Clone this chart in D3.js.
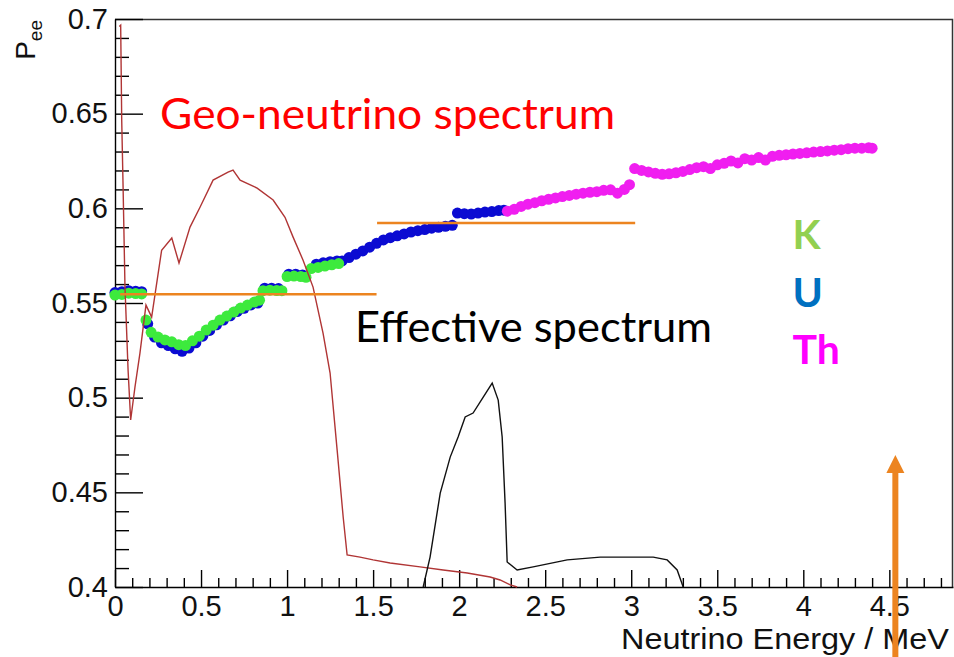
<!DOCTYPE html>
<html>
<head>
<meta charset="utf-8">
<script src="https://cdn.jsdelivr.net/npm/d3@7"></script>
<style>
html, body { margin: 0; padding: 0; background: #fff; }
svg { display: block; }
</style>
</head>
<body>
<div id="chart"></div>
<script>
// tick labels
var xTickLabels = ["0", "0.5", "1", "1.5", "2", "2.5", "3", "3.5", "4", "4.5"];
var yTickLabels = ["0.4", "0.45", "0.5", "0.55", "0.6", "0.65", "0.7"];

// Pee points, [energy MeV, Pee]
var kPoints = [
  [0.00, 0.5542], [0.04, 0.5545], [0.08, 0.5552], [0.12, 0.5550], [0.155, 0.5548],
  [0.18, 0.5410], [0.21, 0.5345], [0.25, 0.5320], [0.29, 0.5305], [0.33, 0.5295],
  [0.37, 0.5280], [0.41, 0.5275], [0.45, 0.5300], [0.49, 0.5325], [0.53, 0.5357],
  [0.57, 0.5383], [0.61, 0.5410], [0.65, 0.5431], [0.69, 0.5452], [0.73, 0.5473],
  [0.77, 0.5489], [0.81, 0.5505], [0.84, 0.5515],
  [0.86, 0.5565], [0.90, 0.5568], [0.94, 0.5566], [0.97, 0.5565],
  [1.00, 0.5640], [1.04, 0.5642], [1.08, 0.5640], [1.11, 0.5636],
  [1.14, 0.5682], [1.18, 0.5688], [1.22, 0.5695], [1.26, 0.5702], [1.30, 0.5708]
];

var uPoints = [
  [0.00, 0.5555], [0.04, 0.5560], [0.08, 0.5565], [0.12, 0.5562], [0.155, 0.5560],
  [0.19, 0.5390], [0.23, 0.5320], [0.27, 0.5290], [0.31, 0.5275], [0.35, 0.5258],
  [0.39, 0.5245], [0.43, 0.5262], [0.47, 0.5290], [0.51, 0.5325], [0.55, 0.5355],
  [0.59, 0.5385], [0.63, 0.5410], [0.67, 0.5432], [0.71, 0.5455], [0.75, 0.5472],
  [0.79, 0.5490], [0.83, 0.5500],
  [0.87, 0.5578], [0.91, 0.5578], [0.95, 0.5576],
  [1.01, 0.5652], [1.05, 0.5652], [1.09, 0.5648],
  [1.17, 0.5705], [1.21, 0.5712], [1.25, 0.5718], [1.29, 0.5722],
  [1.32, 0.5722], [1.36, 0.5740], [1.40, 0.5758], [1.44, 0.5775], [1.48, 0.5795],
  [1.52, 0.5815], [1.56, 0.5833], [1.60, 0.5845], [1.64, 0.5855], [1.68, 0.5865],
  [1.72, 0.5875], [1.76, 0.5882], [1.80, 0.5888], [1.84, 0.5895], [1.88, 0.5900],
  [1.92, 0.5905], [1.96, 0.5910],
  [1.99, 0.5975], [2.03, 0.5972], [2.07, 0.5970], [2.11, 0.5975], [2.15, 0.5980],
  [2.19, 0.5983], [2.23, 0.5988], [2.26, 0.5990]
];

var thPoints = [
  [2.28, 0.5985], [2.32, 0.5995], [2.36, 0.6010], [2.40, 0.6022], [2.44, 0.6030],
  [2.48, 0.6040], [2.52, 0.6048], [2.56, 0.6055], [2.60, 0.6062], [2.64, 0.6068],
  [2.68, 0.6075], [2.72, 0.6080], [2.76, 0.6085], [2.80, 0.6088], [2.84, 0.6095],
  [2.88, 0.6098], [2.92, 0.6080], [2.96, 0.6100], [2.99, 0.6125],
  [3.02, 0.6210], [3.06, 0.6200], [3.10, 0.6192], [3.14, 0.6185], [3.18, 0.6180],
  [3.22, 0.6182], [3.26, 0.6188], [3.30, 0.6195], [3.34, 0.6205], [3.38, 0.6215],
  [3.42, 0.6220], [3.46, 0.6210], [3.50, 0.6230], [3.54, 0.6238], [3.58, 0.6250],
  [3.62, 0.6240], [3.66, 0.6262], [3.70, 0.6255], [3.74, 0.6268], [3.78, 0.6255],
  [3.82, 0.6275], [3.86, 0.6280], [3.90, 0.6283], [3.94, 0.6287], [3.98, 0.6290],
  [4.02, 0.6293], [4.06, 0.6297], [4.10, 0.6300], [4.14, 0.6303], [4.18, 0.6307],
  [4.22, 0.6310], [4.26, 0.6315], [4.30, 0.6318], [4.34, 0.6318], [4.38, 0.6320],
  [4.40, 0.6318]
];

// geo-neutrino spectrum (red, arbitrary scale)
var geoE = [0.025, 0.033, 0.039, 0.047, 0.058, 0.076, 0.091, 0.116, 0.145, 0.180,
  0.213, 0.271, 0.330, 0.372, 0.436, 0.494, 0.570, 0.657, 0.686, 0.727, 0.826,
  0.919, 0.988, 1.035, 1.093, 1.151, 1.209, 1.250, 1.291, 1.326, 1.349, 1.424,
  1.500, 1.599, 1.773, 1.907, 2.047, 2.180, 2.238, 2.297, 2.337];
var geoP = [0.696, 0.6967, 0.6466, 0.6112, 0.5584, 0.5146, 0.4882, 0.5056, 0.5235, 0.5489,
  0.5426, 0.5779, 0.5843, 0.5711, 0.5901, 0.6006, 0.6149, 0.6191, 0.6202, 0.6149, 0.6107,
  0.6044, 0.5953, 0.5848, 0.5726, 0.5584, 0.5341, 0.5130, 0.4723, 0.4370, 0.4169, 0.4158,
  0.4143, 0.4127, 0.4106, 0.4090, 0.4074, 0.4053, 0.4037, 0.4011, 0.400];

// effective spectrum (black)
var effE = [1.791, 1.831, 1.890, 1.948, 1.994, 2.035, 2.081, 2.140, 2.192, 2.227,
  2.250, 2.267, 2.279, 2.337, 2.430, 2.628, 2.820, 3.012, 3.128, 3.209, 3.267, 3.302];
var effP = [0.400, 0.4158, 0.4496, 0.4686, 0.4792, 0.4898, 0.4919, 0.5003, 0.5077, 0.4987,
  0.4792, 0.4443, 0.4132, 0.4090, 0.4106, 0.4143, 0.4158, 0.4158, 0.4158, 0.4143, 0.4090, 0.400];

// effective Pee levels (orange) and marker arrow
var effLevels = [[0.03, 1.52, 0.5546], [1.523, 3.023, 0.5923]];
var arrowE = 4.535;
var arrowFrom = 0.363;
var arrowTo = 0.4697;

var svgWidth = 954;
var svgHeight = 657;
var margin = { top: 19, right: 1, bottom: 70, left: 115 };
var width = svgWidth - margin.left - margin.right;
var height = svgHeight - margin.top - margin.bottom;

var svg = d3.select("#chart")
  .append("svg")
  .attr("width", svgWidth)
  .attr("height", svgHeight);

var chartGroup = svg.append("g")
  .attr("transform", `translate(${margin.left}, ${margin.top})`);

var x = d3.scaleLinear().domain([0, 4.87]).range([0, width]);
var y = d3.scaleLinear().domain([0.4, 0.7]).range([height, 0]);

var axisFont = "'Liberation Sans', Arial, Helvetica, sans-serif";
var noteFont = "Lato, 'Open Sans', sans-serif";

// frame (top and right)
chartGroup.append("path")
  .attr("d", `M0,0.5 H${width - 0.5} V${height}`)
  .attr("fill", "none")
  .attr("stroke", "#333")
  .attr("stroke-width", 1.5);

// minor ticks
var xMinor = d3.range(0, 4.87, 0.1).filter(d => Math.abs(d * 2 - Math.round(d * 2)) > 1e-6);
var yMinor = d3.range(0.4, 0.7001, 0.01).filter(d => Math.abs(d * 20 - Math.round(d * 20)) > 1e-6);

chartGroup.append("g")
  .attr("transform", `translate(0, ${height})`)
  .call(d3.axisBottom(x).tickValues(xMinor).tickSize(-9).tickFormat(""))
  .call(g => g.select(".domain").remove());

chartGroup.append("g")
  .call(d3.axisLeft(y).tickValues(yMinor).tickSize(-14).tickFormat(""))
  .call(g => g.select(".domain").remove());

// major axes
var bottomAxis = d3.axisBottom(x)
  .tickValues(xTickLabels.map(Number))
  .tickFormat((d, i) => xTickLabels[i])
  .tickSizeInner(-17).tickSizeOuter(0).tickPadding(8);
var leftAxis = d3.axisLeft(y)
  .tickValues(yTickLabels.map(Number))
  .tickFormat((d, i) => yTickLabels[i])
  .tickSizeInner(-28).tickSizeOuter(0).tickPadding(7);

var xAxisG = chartGroup.append("g")
  .attr("transform", `translate(0, ${height})`)
  .call(bottomAxis);
var yAxisG = chartGroup.append("g").call(leftAxis);

chartGroup.selectAll(".tick line, .domain")
  .attr("stroke", "#000")
  .attr("stroke-width", 1.4);
[xAxisG, yAxisG].forEach(function (g) {
  g.selectAll("text")
    .attr("font-family", axisFont)
    .attr("font-size", "29px")
    .attr("fill", "#111");
});

// Pee points
function drawPoints(pts, color, r) {
  chartGroup.append("g")
    .selectAll("circle")
    .data(pts)
    .enter()
    .append("circle")
    .attr("cx", d => x(d[0]))
    .attr("cy", d => y(d[1]))
    .attr("r", r)
    .attr("fill", color);
}
drawPoints(uPoints, "#0b0bd2", 5.5);
drawPoints(kPoints, "#3dea3d", 5.5);
drawPoints(thPoints, "#f01ef0", 5.5);

// spectra
var geoLine = d3.line().x((d, i) => x(geoE[i])).y(d => y(d));
chartGroup.append("path")
  .attr("d", geoLine(geoP))
  .attr("fill", "none")
  .attr("stroke", "#b03535")
  .attr("stroke-width", 1.4);

var effLine = d3.line().x((d, i) => x(effE[i])).y(d => y(d));
chartGroup.append("path")
  .attr("d", effLine(effP))
  .attr("fill", "none")
  .attr("stroke", "#111")
  .attr("stroke-width", 1.4);

// orange levels
chartGroup.selectAll(".lvl")
  .data(effLevels)
  .enter()
  .append("line")
  .attr("x1", d => x(d[0]))
  .attr("x2", d => x(d[1]))
  .attr("y1", d => y(d[2]))
  .attr("y2", d => y(d[2]))
  .attr("stroke", "#ec8420")
  .attr("stroke-width", 2.5);

// axis titles
chartGroup.append("text")
  .attr("x", width - 4)
  .attr("y", height + 62)
  .attr("text-anchor", "end")
  .attr("font-family", axisFont)
  .attr("font-size", "30px")
  .attr("textLength", 328)
  .attr("lengthAdjust", "spacingAndGlyphs")
  .attr("fill", "#111")
  .text("Neutrino Energy / MeV");

var yTitle = svg.append("text")
  .attr("transform", "translate(35, 20) rotate(-90)")
  .attr("text-anchor", "end")
  .attr("font-family", axisFont)
  .attr("fill", "#111");
yTitle.append("tspan").attr("font-size", "28px").text("P");
yTitle.append("tspan").attr("font-size", "19px").attr("dy", 7).text("ee");

// arrow (drawn over the axis title, as in the slide)
var ax = x(arrowE);
var atop = y(arrowTo);
chartGroup.append("line")
  .attr("x1", ax).attr("x2", ax)
  .attr("y1", y(arrowFrom)).attr("y2", atop + 16)
  .attr("stroke", "#ec8420")
  .attr("stroke-width", 6);
chartGroup.append("path")
  .attr("d", `M${ax},${atop} L${ax + 9},${atop + 18} L${ax - 9},${atop + 18} Z`)
  .attr("fill", "#ec8420");

// annotations
chartGroup.append("text")
  .attr("x", x(0.262))
  .attr("y", y(0.6418))
  .attr("font-family", noteFont)
  .attr("font-size", "43px")
  .attr("textLength", 455)
  .attr("lengthAdjust", "spacingAndGlyphs")
  .attr("fill", "#ff0000")
  .text("Geo-neutrino spectrum");

chartGroup.append("text")
  .attr("x", x(1.395))
  .attr("y", y(0.5295))
  .attr("font-family", noteFont)
  .attr("font-size", "43px")
  .attr("textLength", 357)
  .attr("lengthAdjust", "spacingAndGlyphs")
  .attr("fill", "#000")
  .text("Effective spectrum");

var isoLabels = ["K", "U", "Th"];
var isoColors = ["#92d050", "#0070c0", "#ff00ff"];
var isoP = [0.5787, 0.5480, 0.5179];
chartGroup.selectAll(".iso")
  .data(isoLabels)
  .enter()
  .append("text")
  .attr("x", x(3.937))
  .attr("y", (d, i) => y(isoP[i]))
  .attr("font-family", noteFont)
  .attr("font-weight", "bold")
  .attr("font-size", "41px")
  .attr("fill", (d, i) => isoColors[i])
  .text(d => d);
</script>
</body>
</html>
